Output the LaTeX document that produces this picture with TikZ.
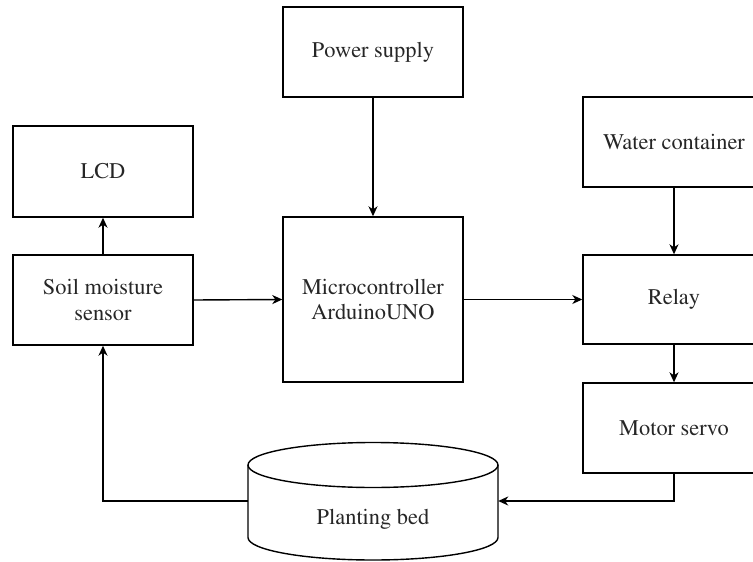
\documentclass[tikz,border=0pt]{standalone}
\usepackage[T1]{fontenc}
\renewcommand{\rmdefault}{ptm}
\usetikzlibrary{arrows.meta}
\begin{document}
\begin{tikzpicture}[x=1pt,y=-1pt,
  txt/.style={font=\rmfamily\fontsize{22.4}{25.7}\selectfont, text=black!85},
  box/.style={txt, draw, line width=1.4pt, minimum width=180pt, minimum height=90pt, inner sep=0pt, align=center},
  arr/.style={line width=1.4pt, -{Stealth[length=10pt,width=9pt,inset=3pt]}},
  lin/.style={line width=1.4pt}]
\useasboundingbox (0,0) rectangle (753,562);
\clip (0,0) rectangle (753,562);
\node[box] (power) at (373,52) {Power supply};
\node[box, minimum height=165pt] (micro) at (373,299.5) {Microcontroller\\ArduinoUNO};
\node[box, minimum height=91pt] (lcd) at (103,171.5) {LCD};
\node[box] (soil) at (103,300) {Soil moisture\\sensor};
\node[box, minimum width=182pt] (water) at (674,142) {Water container};
\node[box, minimum width=182pt, minimum height=89pt] (relay) at (674,299.5) {Relay};
\node[box, minimum width=182pt] (motor) at (674,428) {Motor servo};
% planting bed cylinder
\node[minimum width=250pt, minimum height=118pt, inner sep=0pt] (bed) at (373,501) {};
\draw[lin, fill=white] (248,465) -- (248,537.5) arc[start angle=180, end angle=360, x radius=125pt, y radius=22.5pt] -- (498,465);
\draw[lin] (373,465) ellipse [x radius=125pt, y radius=22.5pt];
\node[txt, inner sep=0pt] (bedlabel) at (373,519) {Planting bed};
% connectors
\draw[arr] (power.south) -- (micro.north);
\draw[arr] (soil.north) -- (lcd.south);
\draw[arr] (soil.east) -- (micro.west);
\draw[arr] (micro.east) -- (relay.west);
\draw[arr] (water.south) -- (relay.north);
\draw[arr] (relay.south) -- (motor.north);
\draw[arr] (motor.south) |- (bed.east);
\draw[arr] (bed.west) -| (soil.south);
\end{tikzpicture}
\end{document}
